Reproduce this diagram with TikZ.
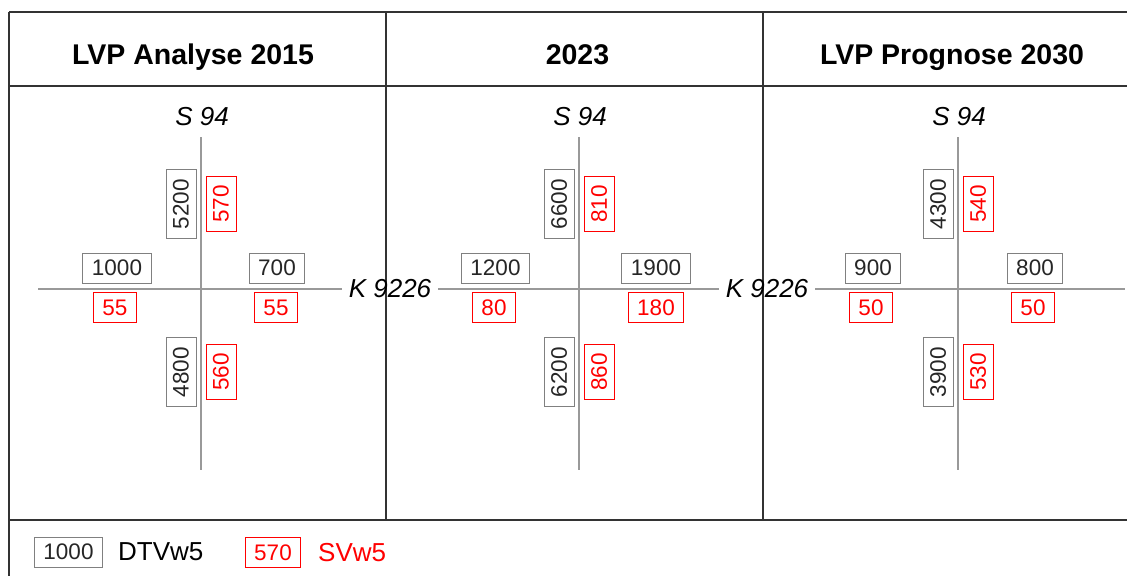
\documentclass[tikz,border=0pt]{standalone}
\usepackage{fontspec}
\setmainfont{Liberation Sans}
\begin{document}
\begin{tikzpicture}[x=1pt,y=-1pt,
    dtv/.style={draw=gray, line width=1pt, text=black!85, inner xsep=9pt, inner ysep=0pt, minimum height=30pt, font=\fontsize{22.5}{27}\selectfont},
    sv/.style={dtv, draw=red, text=red},
    road/.style={draw=gray!80, line width=1.2pt},
    frame/.style={draw=black!80, line width=1.2pt},
    head/.style={anchor=base, inner sep=0pt, font=\fontsize{28.5}{34}\selectfont\bfseries},
    street/.style={inner xsep=7pt, inner ysep=0pt, font=\fontsize{26}{31}\selectfont\itshape},
    legend/.style={anchor=west, inner sep=0pt, font=\fontsize{26}{31}\selectfont}]
\useasboundingbox (0,0) rectangle (1127,576);
% frame
\draw[frame] (9,12) -- (1127,12);
\draw[frame] (9,86) -- (1127,86);
\draw[frame] (9,520) -- (1127,520);
\draw[frame] (9,12) -- (9,576);
\draw[frame] (386,12) -- (386,520);
\draw[frame] (763,12) -- (763,520);
\node(H1)[head] at (193,64){LVP Analyse 2015};
\node(H2)[head] at (577.5,64){2023};
\node(H3)[head] at (952,64){LVP Prognose 2030};
% K 9226
\coordinate(W) at (38,289);
\coordinate(E) at (1125,289);
\node(K1)[street] at (390,289){K 9226};
\node(K2)[street] at (767,289){K 9226};
\draw[road](W)--(K1);
\draw[road](K1)--(K2);
\draw[road](K2)--(E);
% S 94
\node(S1)[street] at (202,117){S 94};
\node(S2)[street] at (580,117){S 94};
\node(S3)[street] at (959,117){S 94};
\coordinate(T1) at (201,137); \coordinate(U1) at (201,470);
\coordinate(T2) at (579,137); \coordinate(U2) at (579,470);
\coordinate(T3) at (958,137); \coordinate(U3) at (958,470);
\draw[road](T1)--(U1);
\draw[road](T2)--(U2);
\draw[road](T3)--(U3);
% Analyse 2015
\node(A1)[dtv, rotate=90] at (181,204){5200};
\node(A2)[sv, rotate=90] at (221,204){570};
\node(A3)[dtv] at (117,268){1000};
\node(A4)[dtv] at (277,268){700};
\node(A5)[sv] at (115,307.5){55};
\node(A6)[sv] at (276,307.5){55};
\node(A7)[dtv, rotate=90] at (181,372){4800};
\node(A8)[sv, rotate=90] at (221,372){560};
% 2023
\node(B1)[dtv, rotate=90] at (559,204){6600};
\node(B2)[sv, rotate=90] at (599,204){810};
\node(B3)[dtv] at (495.5,268){1200};
\node(B4)[dtv] at (656,268){1900};
\node(B5)[sv] at (494,307.5){80};
\node(B6)[sv] at (656,307.5){180};
\node(B7)[dtv, rotate=90] at (559,372){6200};
\node(B8)[sv, rotate=90] at (599,372){860};
% Prognose 2030
\node(C1)[dtv, rotate=90] at (938,204){4300};
\node(C2)[sv, rotate=90] at (978,204){540};
\node(C3)[dtv] at (873,268){900};
\node(C4)[dtv] at (1035,268){800};
\node(C5)[sv] at (871,307.5){50};
\node(C6)[sv] at (1033,307.5){50};
\node(C7)[dtv, rotate=90] at (938,372){3900};
\node(C8)[sv, rotate=90] at (978,372){530};
% legend
\node(L1)[dtv] at (68.5,552){1000};
\node(L2)[legend] at (118,552){DTVw5};
\node(L3)[sv] at (273,552.5){570};
\node(L4)[legend, text=red] at (318,552.5){SVw5};
\end{tikzpicture}
\end{document}
